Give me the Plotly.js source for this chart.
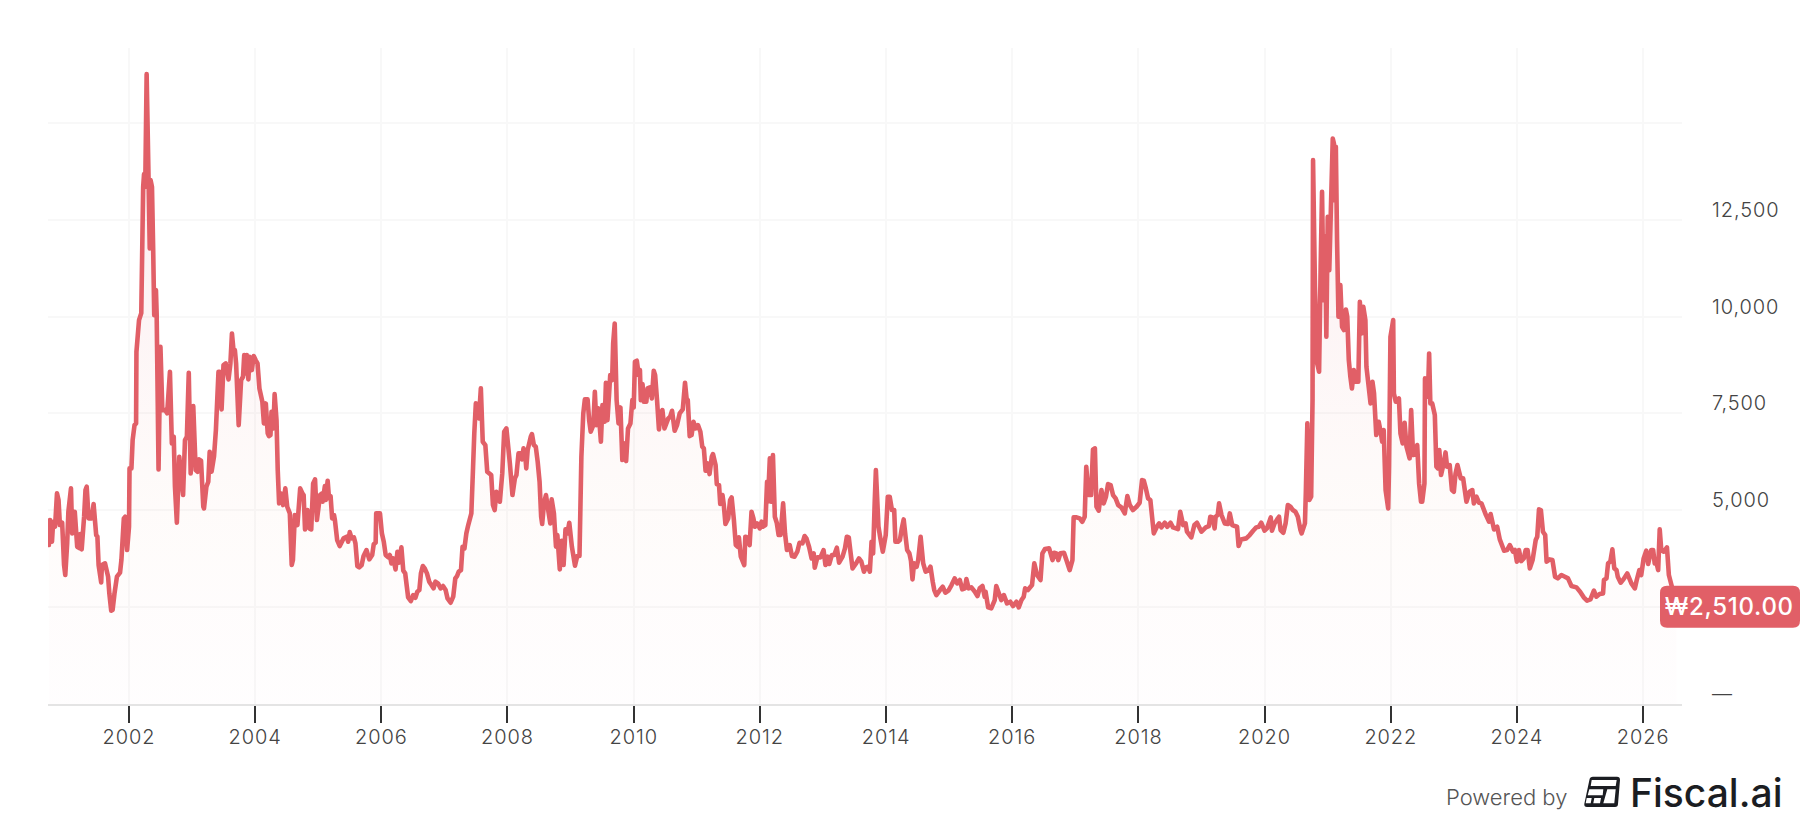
<!DOCTYPE html>
<html>
<head>
<meta charset="utf-8">
<script src="https://cdn.plot.ly/plotly-3.0.1.min.js"></script>
<style>
html,body{margin:0;padding:0;background:#fff;overflow:hidden}
#chart{width:1816px;height:826px}
.js-line{stroke-linejoin:round !important;stroke-linecap:round !important}
.xtick text,.ytick text{letter-spacing:0.9px}
.annotation[data-index="0"] text{letter-spacing:0.7px}
</style>
</head>
<body>
<div id="chart"></div>
<script>
const years = [
2000.73,2000.75,2000.78,2000.80,2000.83,2000.86,2000.885,2000.905,2000.94,2000.97,
2000.99,2001.02,2001.04,2001.08,2001.10,2001.14,2001.18,2001.22,2001.23,2001.25,
2001.29,2001.31,2001.33,2001.36,2001.41,2001.44,2001.48,2001.50,2001.52,2001.56,
2001.57,2001.62,2001.67,2001.69,2001.72,2001.74,2001.77,2001.81,2001.86,2001.88,
2001.92,2001.94,2001.97,2002.00,2002.01,2002.04,2002.06,2002.09,2002.115,2002.12,
2002.16,2002.195,2002.225,2002.24,2002.26,2002.28,2002.31,2002.33,2002.345,2002.365,
2002.385,2002.40,2002.43,2002.44,2002.469,2002.50,2002.53,2002.575,2002.606,2002.65,
2002.68,2002.71,2002.73,2002.76,2002.80,2002.86,2002.89,2002.92,2002.95,2002.98,
2003.02,2003.06,2003.09,2003.11,2003.145,2003.18,2003.19,2003.23,2003.26,2003.28,
2003.31,2003.35,2003.38,2003.42,2003.44,2003.47,2003.50,2003.535,2003.58,2003.61,
2003.635,2003.66,2003.68,2003.70,2003.74,2003.78,2003.81,2003.83,2003.85,2003.87,
2003.895,2003.915,2003.95,2003.98,2004.01,2004.04,2004.07,2004.116,2004.14,2004.17,
2004.20,2004.22,2004.245,2004.26,2004.29,2004.31,2004.34,2004.36,2004.38,2004.41,
2004.445,2004.48,2004.51,2004.55,2004.58,2004.60,2004.63,2004.67,2004.715,2004.75,
2004.77,2004.79,2004.83,2004.86,2004.89,2004.92,2004.95,2004.98,2005.03,2005.06,
2005.07,2005.105,2005.12,2005.15,2005.17,2005.195,2005.22,2005.25,2005.265,2005.30,
2005.34,2005.40,2005.45,2005.475,2005.50,2005.53,2005.565,2005.59,2005.62,2005.65,
2005.69,2005.72,2005.765,2005.81,2005.855,2005.88,2005.91,2005.92,2005.98,2006.01,
2006.04,2006.07,2006.11,2006.135,2006.16,2006.19,2006.225,2006.255,2006.28,2006.32,
2006.35,2006.38,2006.425,2006.47,2006.505,2006.54,2006.57,2006.605,2006.63,2006.66,
2006.69,2006.725,2006.76,2006.795,2006.83,2006.86,2006.90,2006.94,2006.98,2007.02,
2007.05,2007.10,2007.14,2007.175,2007.20,2007.23,2007.265,2007.29,2007.32,2007.35,
2007.38,2007.43,2007.455,2007.475,2007.50,2007.53,2007.55,2007.58,2007.61,2007.65,
2007.68,2007.745,2007.77,2007.80,2007.825,2007.88,2007.92,2007.95,2007.985,2008.04,
2008.08,2008.12,2008.144,2008.175,2008.21,2008.23,2008.255,2008.28,2008.30,2008.32,
2008.37,2008.39,2008.42,2008.45,2008.48,2008.51,2008.535,2008.55,2008.58,2008.61,
2008.645,2008.68,2008.70,2008.735,2008.77,2008.79,2008.83,2008.86,2008.89,2008.92,
2008.95,2008.98,2009.02,2009.07,2009.105,2009.14,2009.17,2009.20,2009.225,2009.27,
2009.295,2009.32,2009.36,2009.385,2009.41,2009.44,2009.46,2009.48,2009.505,2009.54,
2009.56,2009.585,2009.61,2009.63,2009.66,2009.675,2009.70,2009.73,2009.76,2009.79,
2009.82,2009.845,2009.88,2009.91,2009.95,2009.98,2010.00,2010.02,2010.05,2010.08,
2010.10,2010.115,2010.14,2010.16,2010.20,2010.22,2010.26,2010.29,2010.32,2010.34,
2010.37,2010.40,2010.43,2010.455,2010.49,2010.55,2010.58,2010.61,2010.65,2010.69,
2010.73,2010.78,2010.815,2010.84,2010.86,2010.89,2010.92,2010.95,2010.985,2011.02,
2011.06,2011.09,2011.115,2011.14,2011.175,2011.205,2011.24,2011.26,2011.30,2011.32,
2011.355,2011.375,2011.41,2011.43,2011.455,2011.50,2011.53,2011.555,2011.59,2011.62,
2011.65,2011.67,2011.70,2011.755,2011.77,2011.80,2011.84,2011.87,2011.90,2011.925,
2011.96,2012.00,2012.03,2012.05,2012.09,2012.115,2012.13,2012.16,2012.18,2012.21,
2012.24,2012.27,2012.30,2012.33,2012.37,2012.40,2012.43,2012.475,2012.51,2012.55,
2012.595,2012.63,2012.675,2012.71,2012.74,2012.78,2012.82,2012.855,2012.87,2012.91,
2012.96,2013.01,2013.04,2013.075,2013.10,2013.14,2013.18,2013.22,2013.255,2013.31,
2013.35,2013.38,2013.41,2013.44,2013.47,2013.52,2013.57,2013.61,2013.65,2013.68,
2013.715,2013.745,2013.77,2013.795,2013.82,2013.84,2013.88,2013.91,2013.95,2013.995,
2014.03,2014.06,2014.095,2014.13,2014.15,2014.19,2014.22,2014.25,2014.28,2014.31,
2014.335,2014.37,2014.395,2014.42,2014.445,2014.485,2014.51,2014.55,2014.59,2014.63,
2014.67,2014.705,2014.74,2014.765,2014.80,2014.855,2014.90,2014.94,2014.99,2015.04,
2015.09,2015.13,2015.17,2015.21,2015.25,2015.275,2015.31,2015.355,2015.41,2015.45,
2015.485,2015.53,2015.565,2015.58,2015.62,2015.67,2015.725,2015.75,2015.79,2015.83,
2015.87,2015.92,2015.97,2016.015,2016.07,2016.105,2016.15,2016.185,2016.205,2016.25,
2016.315,2016.35,2016.395,2016.45,2016.48,2016.52,2016.585,2016.64,2016.665,2016.70,
2016.73,2016.765,2016.82,2016.86,2016.91,2016.955,2016.975,2017.02,2017.07,2017.11,
2017.15,2017.175,2017.21,2017.25,2017.28,2017.31,2017.335,2017.37,2017.415,2017.45,
2017.485,2017.52,2017.56,2017.60,2017.64,2017.68,2017.73,2017.785,2017.825,2017.865,
2017.915,2017.97,2018.02,2018.06,2018.085,2018.12,2018.155,2018.19,2018.245,2018.30,
2018.33,2018.365,2018.42,2018.46,2018.51,2018.55,2018.63,2018.665,2018.71,2018.75,
2018.77,2018.84,2018.89,2018.93,2019.00,2019.07,2019.12,2019.14,2019.18,2019.21,
2019.225,2019.26,2019.28,2019.32,2019.37,2019.42,2019.45,2019.49,2019.53,2019.565,
2019.59,2019.63,2019.71,2019.765,2019.82,2019.87,2019.91,2019.95,2020.00,2020.04,
2020.10,2020.12,2020.16,2020.20,2020.23,2020.255,2020.30,2020.335,2020.37,2020.41,
2020.45,2020.49,2020.53,2020.57,2020.59,2020.64,2020.655,2020.68,2020.71,2020.74,
2020.76,2020.77,2020.80,2020.835,2020.865,2020.89,2020.91,2020.935,2020.96,2020.98,
2021.00,2021.025,2021.08,2021.10,2021.115,2021.13,2021.15,2021.17,2021.20,2021.23,
2021.26,2021.29,2021.31,2021.335,2021.36,2021.385,2021.415,2021.45,2021.485,2021.51,
2021.54,2021.565,2021.60,2021.615,2021.645,2021.68,2021.71,2021.735,2021.77,2021.81,
2021.845,2021.865,2021.89,2021.92,2021.96,2021.975,2021.995,2022.04,2022.05,2022.08,
2022.13,2022.155,2022.19,2022.22,2022.25,2022.30,2022.325,2022.355,2022.39,2022.42,
2022.45,2022.48,2022.50,2022.535,2022.545,2022.59,2022.61,2022.63,2022.66,2022.70,
2022.725,2022.75,2022.77,2022.80,2022.84,2022.87,2022.895,2022.935,2022.97,2023.00,
2023.03,2023.06,2023.11,2023.15,2023.17,2023.20,2023.25,2023.295,2023.32,2023.36,
2023.40,2023.44,2023.51,2023.56,2023.585,2023.64,2023.69,2023.73,2023.80,2023.845,
2023.89,2023.94,2023.97,2024.00,2024.035,2024.07,2024.11,2024.14,2024.17,2024.205,
2024.25,2024.30,2024.325,2024.35,2024.38,2024.415,2024.45,2024.47,2024.52,2024.565,
2024.605,2024.65,2024.705,2024.76,2024.81,2024.865,2024.945,2025.00,2025.06,2025.11,
2025.165,2025.22,2025.26,2025.31,2025.365,2025.38,2025.42,2025.445,2025.48,2025.515,
2025.545,2025.58,2025.60,2025.645,2025.69,2025.75,2025.815,2025.87,2025.90,2025.94,
2025.97,2026.01,2026.05,2026.08,2026.13,2026.16,2026.185,2026.21,2026.24,2026.265,
2026.29,2026.33,2026.38,2026.41,2026.45,2026.485,2026.53
];
const prices = [
4102,4747,4188,4704,4575,5435,5263,4618,4678,3586,
3328,4145,4962,5564,4403,4962,4059,4016,4386,3990,
4833,5521,5607,4790,4790,5160,4360,4317,3586,3139,
3586,3629,3285,2855,2408,2425,2855,3285,3388,3715,
4790,4833,3973,4575,6080,6080,6811,7198,7241,9089,
9907,10087,13346,13674,13346,16254,13604,11757,13519,13346,
11713,10036,10681,10087,6054,9219,7585,7585,7499,8574,
6725,6897,5607,4678,6381,5392,6811,6897,8548,5951,
7688,6037,5994,6312,6278,5091,5048,5607,5736,6510,
5994,6381,7069,8574,8574,7602,8746,8789,8376,8789,
9563,9133,9133,8789,7198,8359,8445,9004,8531,9004,
8376,8961,8617,8978,8875,8789,8144,7800,7241,7757,
6983,6914,6940,7542,7112,7998,7327,6037,5177,5435,
5134,5564,5091,4919,3586,3715,4876,4618,5564,5435,
5392,4506,5005,4532,4506,5693,5796,4747,5392,5435,
5220,5624,5263,5762,5306,5366,4790,4876,4747,4231,
4076,4274,4317,4188,4437,4274,4300,4145,3560,3526,
3586,3818,3973,3732,3844,4128,4162,4919,4919,4403,
4188,3844,3784,3844,3629,3758,3474,3930,3646,4042,
3440,3371,2752,2657,2812,2743,2898,2941,3371,3560,
3500,3371,3156,3070,2984,3156,3113,2984,3044,2941,
2726,2614,2769,3242,3302,3414,3457,4059,4016,4403,
4618,4919,6123,6983,7757,7413,7370,8144,6768,6682,
5994,5908,5134,5005,5478,5220,5951,7026,7112,6209,
5392,5822,5908,6467,6467,6312,6596,6467,6080,6553,
6897,6966,6682,6639,6252,5736,4833,4644,5194,5392,
5005,4661,5280,4919,4059,4360,3474,4214,3586,4506,
4403,4678,4059,3569,3818,3818,6381,7499,7860,7860,
7327,7026,7198,8058,7198,7628,7241,6768,7714,7284,
8290,7327,7972,8488,8359,9305,9821,7843,7241,7654,
6295,6725,6269,7112,7241,7843,7654,8832,8858,8488,
8617,7843,8256,7800,7800,8144,8170,7886,8600,8488,
7843,7086,7499,7585,7112,7370,7413,7568,7052,7198,
7499,7602,8290,7886,7843,6914,6940,7284,7112,7198,
7026,6639,6596,6020,6209,5934,6381,6450,6166,5676,
5650,5160,5392,5160,4644,4790,5263,5332,4747,4102,
4059,4300,3801,3586,4317,4300,4102,4962,4790,4575,
4661,4532,4704,4575,4618,5736,5220,6338,5220,6423,
4833,4678,4360,4360,5177,4403,3973,4102,3818,3801,
3930,4162,4145,4334,4274,4059,3758,3887,3517,3784,
3784,3973,3586,3801,3612,3844,3844,4033,3646,3801,
4016,4317,4300,3887,3500,3612,3758,3672,3414,3526,
3543,3414,4188,3887,5177,6037,4575,4274,3930,4360,
5349,5349,5005,5005,4188,4188,4231,4532,4764,4317,
3973,3887,3698,3216,3629,3543,3715,4317,3629,3414,
3440,3543,3156,2941,2812,2941,3027,2872,2924,3070,
3242,3113,3199,2958,2984,3225,2984,3010,2898,2786,
2984,3044,2769,2898,2494,2468,2683,3044,2855,2683,
2812,2597,2640,2528,2640,2494,2683,2769,2984,2941,
3070,3629,3328,3199,3887,3999,4016,3715,3904,3887,
3715,3887,3904,3715,3457,3715,4816,4816,4790,4704,
4833,6123,5392,5392,6570,6596,5091,4988,5521,5177,
5349,5676,5650,5392,5306,5134,5074,4919,5366,5134,
5005,5091,5194,5779,5762,5564,5306,5263,4403,4592,
4661,4558,4678,4575,4678,4558,4515,4962,4618,4661,
4446,4300,4618,4678,4446,4558,4592,4833,4816,4532,
4833,4876,5177,4876,4661,4644,4919,4618,4592,4575,
4076,4248,4274,4360,4472,4558,4575,4678,4472,4532,
4816,4472,4661,4764,4833,4489,4420,4661,5134,5091,
5005,4962,4833,4489,4403,4661,5435,7241,5263,5349,
7843,14035,10767,8789,8574,11283,13218,10423,12057,9477,
12573,11197,14594,14465,13003,14379,11971,9993,10810,9735,
9649,10182,9993,8875,8445,8144,8617,8316,8316,10380,
9563,10251,9907,8703,8273,7757,8316,8015,6940,7284,
6983,6768,7069,5521,5048,6123,9477,9907,8015,7800,
7886,6983,6725,7258,6639,6338,7585,6424,6467,6682,
5693,5220,5220,5693,8402,7929,9047,7757,7757,7456,
6123,6080,6553,5908,6209,6493,6123,6166,5521,5478,
5951,6166,5822,5822,5564,5220,5478,5521,5177,5349,
5194,5177,4876,4704,4902,4506,4575,4248,3956,3973,
4102,3930,3973,3672,3973,3689,3758,3973,3973,3500,
3715,4231,4317,5022,5005,4446,4360,3672,3732,3715,
3285,3242,3328,3285,3242,3044,3010,2898,2752,2666,
2700,2924,2769,2838,2855,3199,3242,3629,3672,3990,
3500,3457,3285,3130,3216,3371,3113,2984,3199,3457,
3328,3758,3956,3612,3973,3973,3629,3672,3457,4506,
3973,3930,4042,3328,3070,2769,2510
];
const tickYears = [2002,2004,2006,2008,2010,2012,2014,2016,2018,2020,2022,2024,2026];
const gridValues = [0,2500,5000,7500,10000,12500,15000];
const gridLabels = ["—","","5,000","7,500","10,000","12,500",""];
const lastPriceLabel = "₩2,510.00";

function toDate(y){
  const yr = Math.floor(y);
  const s = Date.UTC(yr,0,1), e = Date.UTC(yr+1,0,1);
  return new Date(s + (y-yr)*(e-s)).toISOString().slice(0,10);
}
const RED = "#e15f67";
const FONT = "Inter, 'Open Sans', sans-serif";

const trace = {
  type:"scatter", mode:"lines",
  x: years.map(toDate), y: prices,
  line:{color:RED,width:4.6,simplify:false},
  fill:"tozeroy",
  fillgradient:{type:"vertical",start:16500,stop:0,
    colorscale:[[0,"rgba(225,95,103,0.13)"],[0.5,"rgba(225,95,103,0.05)"],[0.75,"rgba(235,150,110,0.03)"],[1,"rgba(225,95,150,0.01)"]]},
  hoverinfo:"skip", showlegend:false
};

function rr(x0,y0,x1,y1,r){
  return `M${x0+r},${y0} L${x1-r},${y0} Q${x1},${y0} ${x1},${y0+r} L${x1},${y1-r} Q${x1},${y1} ${x1-r},${y1} L${x0+r},${y1} Q${x0},${y1} ${x0},${y1-r} L${x0},${y0+r} Q${x0},${y0} ${x0+r},${y0} Z`;
}
const DARK="#1b1d22";
const logoAnchor={xref:"paper",yref:"paper",xsizemode:"pixel",ysizemode:"pixel",xanchor:0.9388,yanchor:-0.1585,layer:"above",line:{width:0}};
const layout = {
  width:1816,height:826,
  margin:{l:48,r:134,t:48,b:122,pad:0},
  paper_bgcolor:"#fff",plot_bgcolor:"#fff",
  font:{family:FONT,color:"#444",size:20},
  xaxis:{type:"date",range:[toDate(2000.716),toDate(2026.618)],
    tickmode:"array",tickvals:tickYears.map(y=>y+"-01-01"),ticktext:tickYears.map(String),
    showgrid:true,gridcolor:"#f8f8f8",gridwidth:2,
    showline:true,linecolor:"#e4e4e4",linewidth:2,
    ticks:"outside",ticklen:17,tickwidth:2,tickcolor:"#333",ticklabelstandoff:-3,
    tickfont:{family:FONT,size:20,color:"#444",weight:300},zeroline:false,fixedrange:true},
  yaxis:{range:[0,16929],side:"right",tickmode:"array",tickvals:gridValues,ticktext:gridLabels,
    showgrid:true,gridcolor:"#f8f8f8",gridwidth:2,zeroline:false,showline:false,ticks:"",
    ticklabelstandoff:29,ticklabelshift:-10,
    tickfont:{family:FONT,size:20,color:"#444",weight:300},fixedrange:true},
  shapes:[
    {type:"path",xref:"paper",yref:"y",xsizemode:"pixel",ysizemode:"pixel",xanchor:1,yanchor:2510,
     path:rr(-22,-21,118,21,7),fillcolor:RED,line:{width:0},layer:"above"},
    Object.assign({},logoAnchor,{type:"path",
      path:"M5,1 L33,1 Q36,1 36,4 L38,28 Q38,31.3 35,31.3 L11,31.3 Q8,31.3 7.5,28.5 L2.3,4 Q2,1 5,1 Z",fillcolor:DARK}),
    Object.assign({},logoAnchor,{type:"path",
      path:"M9.7,28 L34.7,28 L33.7,22 L8.7,22 Z M7.3,18.7 L21.3,18.7 L20.7,12.7 L5.7,12.7 Z M4.7,10 L9.7,10 L8.7,4.7 L3.7,4.7 Z M12.3,10 L19,10 L18,4.7 L11.3,4.7 Z M25.3,18.7 L33.7,18.7 L32.3,4.7 L21.3,4.7 Z",fillcolor:"#ffffff"})
  ],
  annotations:[
    {xref:"paper",yref:"y",x:(1730-48)/1634,y:2510,text:lastPriceLabel,showarrow:false,
     xanchor:"center",yanchor:"middle",font:{family:FONT,size:24,color:"#fff",weight:500}},
    {xref:"paper",yref:"paper",x:(1444-48)/1634,y:(704-797)/656,text:"Powered by",showarrow:false,
     xanchor:"left",yanchor:"middle",font:{family:FONT,size:22,color:"#555",weight:300}},
    {xref:"paper",yref:"paper",x:(1628-48)/1634,y:(704-792)/656,text:"Fiscal.ai",showarrow:false,
     xanchor:"left",yanchor:"middle",font:{family:FONT,size:39,color:DARK,weight:500}}
  ]
};
Plotly.newPlot("chart",[trace],layout,{displayModeBar:false,staticPlot:true});
</script>
</body>
</html>
